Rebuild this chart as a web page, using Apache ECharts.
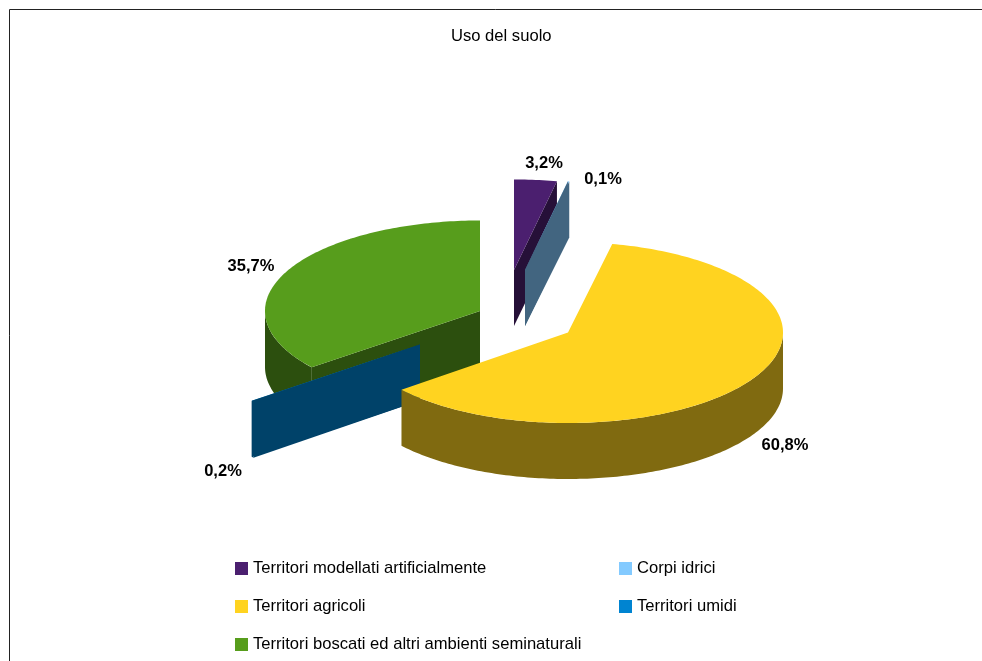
<!DOCTYPE html>
<html>
<head>
<meta charset="utf-8">
<style>
  html, body { margin: 0; padding: 0; background: #fff; }
  #chart { width: 982px; height: 661px; }
</style>
<script src="https://cdn.jsdelivr.net/npm/echarts@6/dist/echarts.min.js"></script>
</head>
<body>
<div id="chart"></div>
<script>
// Land use shares, percent
const categories = [
  'Territori modellati artificialmente',
  'Corpi idrici',
  'Territori agricoli',
  'Territori umidi',
  'Territori boscati ed altri ambienti seminaturali'
];
const shares = [3.2, 0.1, 60.8, 0.2, 35.7];
const colors = ['#4b1f6f', '#83caff', '#ffd320', '#0084d1', '#579d1c'];

// Tilted disc geometry
const RADIUS_X = 215;
const RADIUS_Y = 90.5;
const DEPTH = 56;

// Where each slice's apex sits once pulled out of the disc
const apexes = [[514, 270], [525, 270], [568, 332.5], [420, 344.5], [480, 311]];
const labelSpots = [[544, 163], [603, 179], [785, 445], [223, 471], [251, 266]];
// Painter's order: back slices first
const paintOrder = [2, 3, 5, 4, 1];

const total = shares.reduce((a, b) => a + b, 0);
const startDegrees = shares.map((_, i) =>
  shares.slice(0, i).reduce((a, b) => a + b, 0) / total * 360);

const halve = hex => '#' + [1, 3, 5]
  .map(p => Math.round(parseInt(hex.substr(p, 2), 16) / 2).toString(16).padStart(2, '0'))
  .join('');

function rimPoint(apex, deg, drop) {
  const r = deg * Math.PI / 180;
  return [apex[0] + RADIUS_X * Math.sin(r), apex[1] - RADIUS_Y * Math.cos(r) + drop];
}

function arc(apex, from, to, drop) {
  const pts = [];
  const steps = Math.max(1, Math.ceil(Math.abs(to - from)));
  for (let s = 0; s <= steps; s++) pts.push(rimPoint(apex, from + (to - from) * s / steps, drop));
  return pts;
}

function polygon(points, fill) {
  return { type: 'polygon', shape: { points }, style: { fill, stroke: null } };
}

function radialWall(apex, deg, fill) {
  return polygon([
    [apex[0], apex[1]],
    rimPoint(apex, deg, 0),
    rimPoint(apex, deg, DEPTH),
    [apex[0], apex[1] + DEPTH]
  ], fill);
}

function sliceRenderer(i) {
  return function () {
    const apex = apexes[i];
    const from = startDegrees[i];
    const to = from + shares[i] / total * 360;
    const wall = halve(colors[i]);
    const top = polygon([[apex[0], apex[1]]].concat(arc(apex, from, to, 0)), colors[i]);
    const parts = [];

    // Curved rim, only the stretch that faces the viewer
    const a = Math.max(from, 90), b = Math.min(to, 270);
    if (b > a) parts.push(polygon(arc(apex, a, b, 0).concat(arc(apex, b, a, DEPTH)), wall));

    // Hairline slices show only their walls; the walls hide the sliver of top face
    const hairline = shares[i] / total < 0.005;
    if (hairline) parts.push(top);
    const startFaces = Math.sin(from * Math.PI / 180) < -1e-6;
    const endFaces = Math.sin(to * Math.PI / 180) > 1e-6;
    if (hairline || startFaces) parts.push(radialWall(apex, from, wall));
    if (hairline || endFaces) parts.push(radialWall(apex, to, wall));
    if (!hairline) parts.push(top);

    parts.push({
      type: 'text',
      style: {
        text: shares[i].toFixed(1).replace('.', ',') + '%',
        x: labelSpots[i][0],
        y: labelSpots[i][1],
        align: 'center',
        verticalAlign: 'middle',
        font: 'bold 16.5px "Liberation Sans", Arial, sans-serif',
        fill: '#000'
      }
    });
    return { type: 'group', children: parts };
  };
}

const legendBase = {
  orient: 'vertical',
  icon: 'rect',
  itemWidth: 13,
  itemHeight: 13,
  itemGap: 21,
  selectedMode: false,
  padding: 0,
  textStyle: {
    fontFamily: '"Liberation Sans", Arial, sans-serif',
    fontSize: 16.6,
    lineHeight: 16,
    color: '#000'
  }
};

const chart = echarts.init(document.getElementById('chart'), null, { renderer: 'canvas' });
chart.setOption({
  animation: false,
  backgroundColor: '#fff',
  title: {
    text: 'Uso del suolo',
    left: 451,
    top: 28,
    padding: 0,
    textStyle: {
      fontFamily: '"Liberation Sans", Arial, sans-serif',
      fontSize: 16.6,
      fontWeight: 'normal',
      color: '#000'
    }
  },
  legend: [
    Object.assign({}, legendBase, { left: 235, top: 560, data: [categories[0], categories[2], categories[4]] }),
    Object.assign({}, legendBase, { left: 619, top: 560, data: [categories[1], categories[3]] })
  ],
  graphic: [{
    type: 'polyline',
    silent: true,
    shape: { points: [[9.5, 661], [9.5, 9.5], [982, 9.5]] },
    style: { stroke: '#222', lineWidth: 1, fill: null }
  }],
  series: categories.map((name, i) => ({
    type: 'custom',
    name,
    coordinateSystem: 'none',
    z: paintOrder[i],
    itemStyle: { color: colors[i] },
    data: [[shares[i]]],
    renderItem: sliceRenderer(i)
  }))
});
</script>
</body>
</html>
